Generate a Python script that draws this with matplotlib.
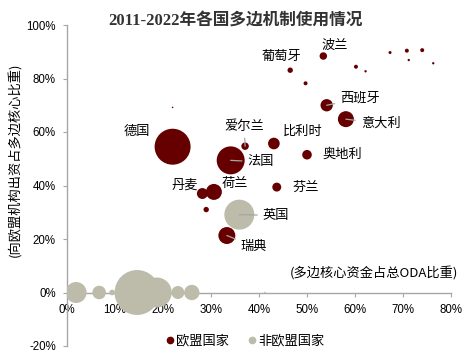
import matplotlib.pyplot as plt
from matplotlib.lines import Line2D
from matplotlib.ticker import FuncFormatter, MultipleLocator

plt.rcParams["font.family"] = ["Noto Sans CJK SC", "DejaVu Sans"]

# EU members: x = core multilateral share of ODA (%), y = share going to EU bodies (%), size = bubble weight
eu_names = ["德国", "法国", "爱尔兰", "比利时", "奥地利", "意大利", "西班牙", "波兰", "葡萄牙",
            "丹麦", "荷兰", "芬兰", "瑞典", "", "", "", "", "", "", "", "", "", ""]
eu_x = [22.0, 34.1, 37.1, 43.1, 50.0, 58.1, 54.1, 53.4, 46.5,
        28.2, 30.6, 43.7, 33.3, 29.0, 49.7, 60.2, 62.2, 67.3, 70.8, 74.0, 71.2, 76.3, 22.0]
eu_y = [54.5, 49.4, 54.7, 55.7, 51.5, 64.8, 70.0, 88.4, 83.1,
        37.0, 37.6, 39.4, 21.3, 31.0, 78.2, 84.4, 82.7, 89.7, 90.4, 90.6, 86.9, 85.7, 69.2]
eu_size = [324, 196, 14, 34, 23, 64, 38, 14, 7.3,
           30, 64, 20, 72, 7.3, 4, 4, 1.4, 2.3, 4, 4, 1.4, 1.4, 0.6]

non_eu_names = ["英国", "", "", "", "", "", "", "", ""]
non_eu_x = [35.9, 1.9, 6.7, 9.4, 18.7, 14.6, 23.1, 26.0, 41.2]
non_eu_y = [29.1, 0, 0, 0, 0, 0, 0, 0, 0]
non_eu_size = [225, 110, 46, 8, 225, 506, 42, 59, 0.6]

# label placements (data coords) and whether a leader line is drawn
label_pos = {
    "德国": (14.6, 60.4, "center", False),
    "爱尔兰": (36.9, 62.2, "center", True),
    "比利时": (49.1, 60.3, "center", False),
    "法国": (37.6, 48.8, "left", True),
    "奥地利": (53.3, 51.6, "left", False),
    "意大利": (61.2, 63.2, "left", True),
    "西班牙": (56.9, 72.5, "left", True),
    "波兰": (55.7, 92.5, "center", False),
    "葡萄牙": (44.6, 88.1, "center", False),
    "丹麦": (24.6, 40.1, "center", False),
    "荷兰": (35.0, 40.9, "center", False),
    "芬兰": (49.8, 39.4, "center", False),
    "英国": (40.8, 28.8, "left", True),
    "瑞典": (36.2, 17.2, "left", True),
}

EU_COLOR = "#660000"
NON_EU_COLOR = "#bdbbaa"
AXIS_COLOR = "#a6a6a6"
K = 2.07  # px radius^2 -> points^2 at dpi 100

fig = plt.figure(figsize=(4.72, 3.54), dpi=100)
ax = fig.add_axes([67 / 472, 8 / 354, 384 / 472, 321 / 354])

ax.scatter(non_eu_x, non_eu_y, s=[v * K for v in non_eu_size], color=NON_EU_COLOR,
           linewidths=0, zorder=3)
ax.scatter(eu_x, eu_y, s=[v * K for v in eu_size], color=EU_COLOR, linewidths=0, zorder=4)

points = {}
for n, x, y in zip(eu_names, eu_x, eu_y):
    if n:
        points[n] = (x, y)
for n, x, y in zip(non_eu_names, non_eu_x, non_eu_y):
    if n:
        points[n] = (x, y)

for name, (tx, ty, ha, leader) in label_pos.items():
    px, py = points[name]
    if leader:
        ax.annotate(name, xy=(px, py), xytext=(tx, ty), ha=ha, va="center", fontsize=9.5,
                    zorder=5,
                    arrowprops=dict(arrowstyle="-", color=AXIS_COLOR, lw=0.9,
                                    shrinkA=2, shrinkB=0))
    else:
        ax.text(tx, ty, name, ha=ha, va="center", fontsize=9.5, zorder=5)

ax.set_xlim(0, 80)
ax.set_ylim(-20, 100)
ax.xaxis.set_major_locator(MultipleLocator(10))
ax.yaxis.set_major_locator(MultipleLocator(20))
pct = FuncFormatter(lambda v, _: f"{v:.0f}%")
ax.xaxis.set_major_formatter(pct)
ax.yaxis.set_major_formatter(pct)

for side in ("top", "right"):
    ax.spines[side].set_visible(False)
ax.spines["bottom"].set_position(("data", 0))
for side in ("left", "bottom"):
    ax.spines[side].set_color(AXIS_COLOR)
    ax.spines[side].set_linewidth(1.0)
    ax.spines[side].set_zorder(2)
ax.tick_params(axis="both", direction="out", length=3, color=AXIS_COLOR,
               labelsize=8.3, pad=5)
for lab in ax.get_xticklabels() + ax.get_yticklabels():
    lab.set_fontfamily(["Liberation Sans", "DejaVu Sans"])

ax.text(81.5, 7.2, "(多边核心资金占总ODA比重)", ha="right", va="center", fontsize=9.5,
        clip_on=False)

fig.text(235 / 472, 1 - 21.7 / 354, "2011-2022年各国多边机制使用情况", ha="center",
         va="center", fontsize=12, fontweight="bold", color="#333333",
         family=["Liberation Serif", "Noto Sans CJK SC"])
fig.text(15 / 472, 1 - 160 / 354, "(向欧盟机构出资占多边核心比重)", rotation=90,
         ha="center", va="center", fontsize=9.5)

handles = [
    Line2D([], [], marker="o", linestyle="", color=EU_COLOR, markersize=4.5, label="欧盟国家"),
    Line2D([], [], marker="o", linestyle="", color=NON_EU_COLOR, markersize=4.5, label="非欧盟国家"),
]
ax.legend(handles=handles, loc="center", bbox_to_anchor=(0.46, 0.016), ncol=2, frameon=False,
          fontsize=9.5, handletextpad=0.0, columnspacing=1.2, handlelength=1.0)

fig.savefig("out.png", dpi=100)
